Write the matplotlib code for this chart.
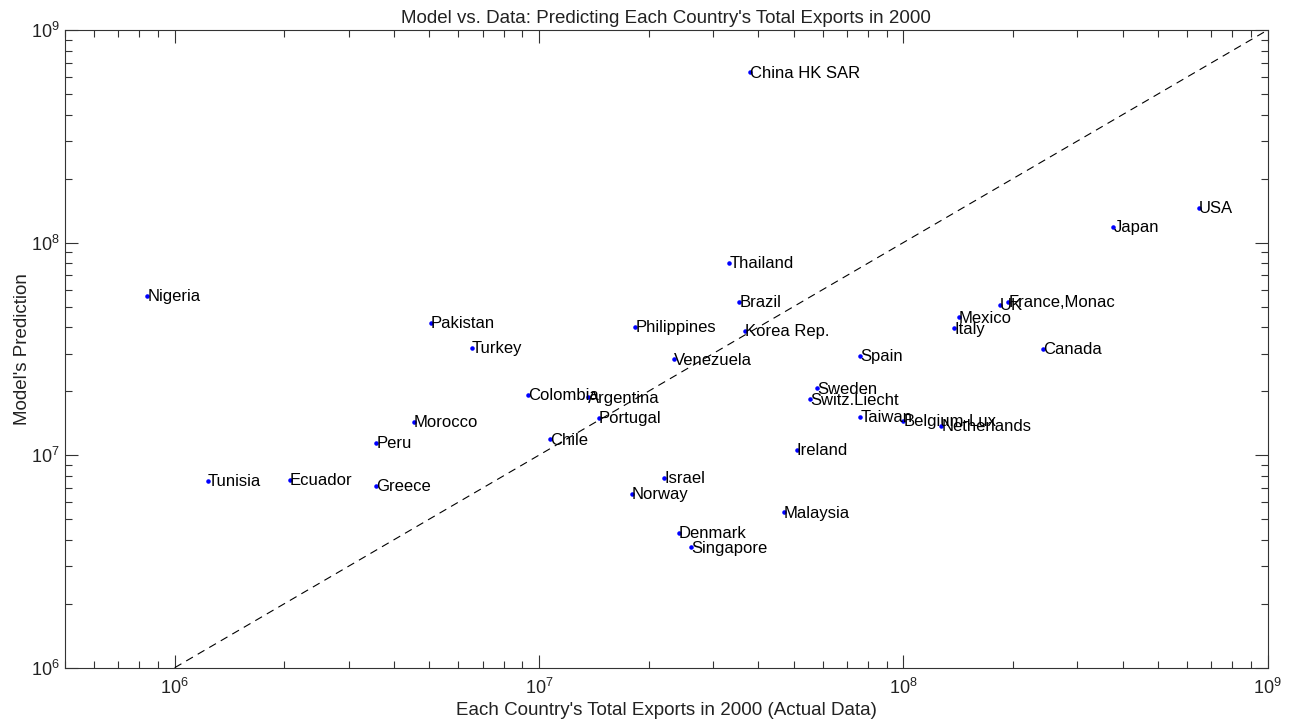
import matplotlib
matplotlib.use("Agg")
import matplotlib.pyplot as plt
from matplotlib.ticker import LogLocator

plt.rcParams['font.family'] = ['Liberation Sans', 'DejaVu Sans']
plt.rcParams['mathtext.fontset'] = 'custom'
plt.rcParams['mathtext.rm'] = 'Liberation Sans'
plt.rcParams['mathtext.it'] = 'Liberation Sans:italic'

countries = ["China HK SAR", "USA", "Japan", "Thailand", "Nigeria", "Brazil",
             "France,Monac", "UK", "Mexico", "Italy", "Pakistan", "Philippines",
             "Korea Rep.", "Turkey", "Canada", "Spain", "Venezuela", "Sweden",
             "Switz.Liecht", "Colombia", "Argentina", "Portugal", "Taiwan",
             "Belgium-Lux", "Netherlands", "Morocco", "Chile", "Peru", "Ireland",
             "Israel", "Tunisia", "Ecuador", "Greece", "Norway", "Malaysia",
             "Denmark", "Singapore"]
actual = [3.80e7, 6.48e8, 3.77e8, 3.33e7, 8.42e5, 3.55e7,
          1.943e8, 1.843e8, 1.422e8, 1.378e8, 5.04e6, 1.838e7,
          3.68e7, 6.55e6, 2.42e8, 7.61e7, 2.35e7, 5.79e7,
          5.55e7, 9.35e6, 1.36e7, 1.458e7, 7.61e7,
          1.0e8, 1.27e8, 4.53e6, 1.075e7, 3.58e6, 5.10e7,
          2.21e7, 1.234e6, 2.07e6, 3.58e6, 1.80e7, 4.69e7,
          2.42e7, 2.61e7]
predicted = [6.32e8, 1.459e8, 1.188e8, 7.99e7, 5.61e7, 5.24e7,
             5.24e7, 5.08e7, 4.45e7, 3.95e7, 4.20e7, 3.995e7,
             3.85e7, 3.20e7, 3.16e7, 2.93e7, 2.82e7, 2.06e7,
             1.83e7, 1.92e7, 1.87e7, 1.50e7, 1.507e7,
             1.452e7, 1.376e7, 1.436e7, 1.187e7, 1.14e7, 1.057e7,
             7.81e6, 7.58e6, 7.64e6, 7.16e6, 6.56e6, 5.38e6,
             4.29e6, 3.68e6]
diag = [1e6, 1e9]

fig = plt.figure(figsize=(12.91, 7.25), dpi=100)
ax = fig.add_axes([65/1291, 1 - 667.7/725, (1267.7-65)/1291, (667.7-30)/725])

ax.plot(diag, diag, linestyle=(0, (7, 5)), color='black', linewidth=0.8)
ax.plot(actual, predicted, linestyle='none', marker='.', color='blue', markersize=4.5)
for name, xv, yv in zip(countries, actual, predicted):
    ax.annotate(name, (xv, yv), xytext=(0, -0.5), textcoords='offset points',
                ha='left', va='center', fontsize=12, color='black')

ax.set_xscale('log')
ax.set_yscale('log')
ax.set_xlim(5e5, 1e9)
ax.set_ylim(1e6, 1e9)
ax.xaxis.set_major_locator(LogLocator(base=10, numticks=10))
ax.yaxis.set_major_locator(LogLocator(base=10, numticks=10))
ax.xaxis.set_minor_locator(LogLocator(base=10, subs=range(2, 10), numticks=20))
ax.yaxis.set_minor_locator(LogLocator(base=10, subs=range(2, 10), numticks=20))

ax.tick_params(which='both', direction='in', top=True, right=True,
               labelsize=13, color='#333333', width=0.8, labelcolor='#222222')
ax.tick_params(which='major', length=9.5)
ax.tick_params(which='minor', length=4.8)
ax.tick_params(axis='x', which='major', pad=7)
ax.tick_params(axis='y', which='major', pad=4)
for s in ax.spines.values():
    s.set_color('#333333')
    s.set_linewidth(0.8)

ax.set_title("Model vs. Data: Predicting Each Country's Total Exports in 2000",
             fontsize=13.5, pad=5, color='#222222')
ax.set_xlabel("Each Country's Total Exports in 2000 (Actual Data)", fontsize=13.5,
              labelpad=3, color='#222222')
ax.set_ylabel("Model's Prediction", fontsize=13.5, labelpad=0, color='#222222')

fig.savefig("out.png", dpi=100)
